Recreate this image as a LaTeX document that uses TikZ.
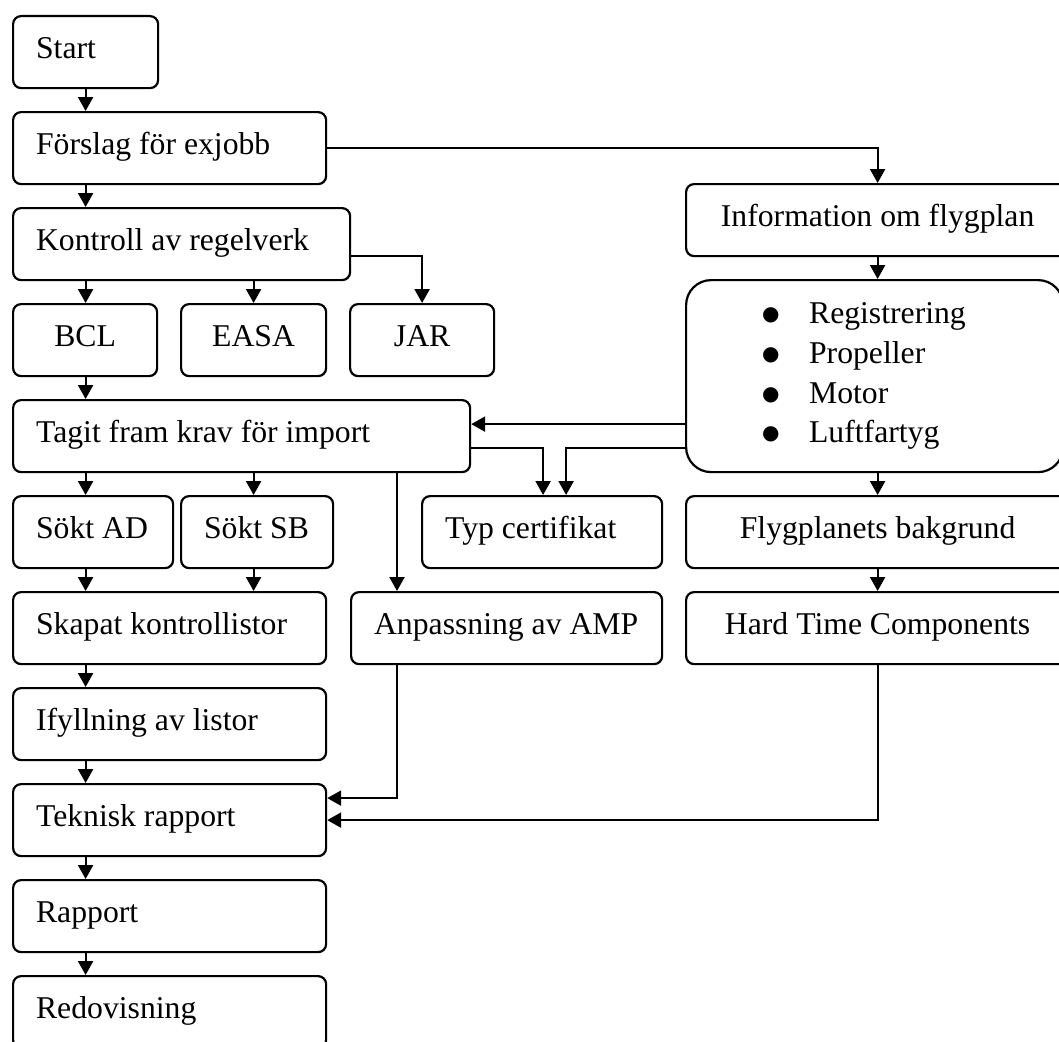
\documentclass[tikz,border=0pt]{standalone}
\usepackage{fontspec}
\setmainfont{Liberation Serif}
\newfontfamily\symfont{DejaVu Sans}
\usetikzlibrary{arrows.meta}

\newcommand{\punkt}{\makebox[47pt][l]{\raisebox{3pt}{\symfont\fontsize{20}{20}\selectfont ●}}}

\tikzstyle{steg}=[draw, line width=2.2pt, rounded corners=8pt, anchor=north west, minimum height=72pt, inner xsep=23pt, inner ysep=0pt, text height=22pt, text depth=9pt, align=flush left]
\tikzstyle{mitt}=[steg, align=flush center, inner xsep=0pt]
\tikzstyle{lista}=[draw, line width=2.2pt, rounded corners=25pt, anchor=north west, minimum height=192pt, inner xsep=76pt, inner ysep=0pt, text width=225pt, align=flush left]
\tikzstyle{dep}=[-{Triangle[length=14pt,width=15pt]}, line width=2.2pt]

\begin{document}
\begin{tikzpicture}[x=1pt, y=-1pt, font=\fontsize{31.7}{39.7}\selectfont]
  \useasboundingbox (0,0) rectangle (1059,1041);
  \clip (0,0) rectangle (1059,1041);
  % vänster kolumn
  \node[steg, text width=99pt] (start) at (12,15) {Start};
  \node[steg, text width=267pt] (forslag) at (12,111) {Förslag för exjobb};
  \node[steg, text width=291pt] (kontroll) at (12,207) {Kontroll av regelverk};
  \node[mitt, minimum width=144pt] (bcl) at (12,303) {BCL};
  \node[mitt, minimum width=145pt] (easa) at (180,303) {EASA};
  \node[mitt, minimum width=144pt] (jar) at (349,303) {JAR};
  \node[steg, text width=411pt] (tagit) at (12,399) {Tagit fram krav för import};
  \node[steg, text width=114pt] (soktad) at (12,495) {\mbox{Sökt AD}};
  \node[steg, text width=106pt] (soktsb) at (180,495) {\mbox{Sökt SB}};
  \node[steg, text width=267pt] (skapat) at (12,591) {Skapat kontrollistor};
  \node[steg, text width=267pt] (ifyllning) at (12,687) {Ifyllning av listor};
  \node[steg, text width=267pt] (teknisk) at (12,783) {Teknisk rapport};
  \node[steg, text width=267pt] (rapport) at (12,879) {Rapport};
  \node[steg, text width=267pt] (redovisning) at (12,975) {Redovisning};
  % mitten
  \node[steg, text width=194pt] (typ) at (421,495) {Typ certifikat};
  \node[steg, text width=265pt] (anpassning) at (350,591) {\mbox{Anpassning av AMP}};
  % höger kolumn
  \node[mitt, minimum width=383pt] (info) at (685,183) {Information om flygplan};
  \node[lista] (lista) at (685,279) {\punkt Registrering\\ \punkt Propeller\\ \punkt Motor\\ \punkt Luftfartyg};
  \node[mitt, minimum width=383pt] (bakgrund) at (685,495) {Flygplanets bakgrund};
  \node[mitt, minimum width=383pt] (hardtime) at (685,591) {Hard Time Components};

  \foreach \a/\b in {start/forslag, forslag/kontroll, kontroll/bcl, bcl/tagit, tagit/soktad, soktad/skapat, skapat/ifyllning, ifyllning/teknisk, teknisk/rapport, rapport/redovisning}
    \draw[dep] (\a.south -| start) to (\b.north -| start);
  \draw[dep] (kontroll.south -| easa) to (easa.north);
  \draw[dep] ([yshift=-12pt]kontroll.east) -| (jar.north);
  \draw[dep] (tagit.south -| easa) to (soktsb.north -| easa);
  \draw[dep] (soktsb.south -| easa) to (skapat.north -| easa);
  \draw[dep] (forslag.east) -| (info.north);
  \foreach \a/\b in {info/lista, lista/bakgrund, bakgrund/hardtime}
    \draw[dep] (\a.south -| info) to (\b.north -| info);
  \draw[dep] ([yshift=-48pt]lista.west) to ([yshift=-48pt]lista.west -| tagit.east);
  \draw[dep] ([yshift=-72pt]lista.west) -| ([xshift=24pt]typ.north);
  \draw[dep] ([yshift=-12pt]tagit.east) -| ([xshift=1pt]typ.north);
  \draw[dep] ([xshift=47pt]anpassning.north west |- tagit.south) to ([xshift=47pt]anpassning.north west);
  \draw[dep] ([xshift=47pt]anpassning.south west) |- ([yshift=22pt]teknisk.east);
  \draw[dep] (hardtime.south) |- (teknisk.east);
\end{tikzpicture}
\end{document}
